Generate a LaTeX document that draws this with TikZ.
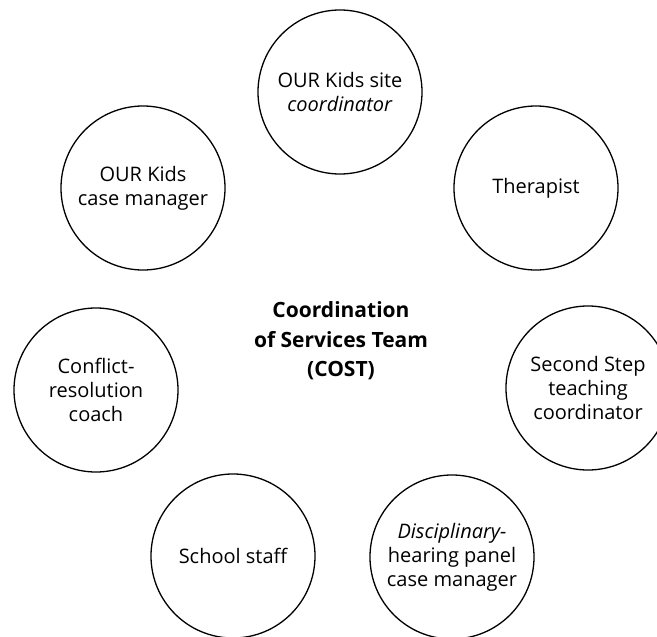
\documentclass[tikz,border=0pt]{standalone}
\usepackage{fontspec}
\setmainfont{Open Sans}
\begin{document}
\begin{tikzpicture}[x=1pt,y=-1pt,
  role/.style={circle, draw=black, line width=1.3pt, minimum size=164pt, inner sep=0pt,
    align=center, font=\fontsize{20}{24}\selectfont},
  hub/.style={align=center, font=\bfseries\fontsize{21}{29.5}\selectfont}]
\useasboundingbox (0,0) rectangle (657,637);
\clip (0,0) rectangle (657,637);
\fill[white] (0,0) rectangle (657,637);
\node[role] (site) at (340,92) {OUR Kids site\\\textit{coordinator}};
\node[role] (ther) at (536,188) {Therapist};
\node[role] (casem) at (143,188) {OUR Kids\\case manager};
\node[role] (confl) at (96,390) {Conflict-\\resolution\\coach};
\node[role] (second) at (588,388) {Second Step\\teaching\\coordinator};
\node[role] (school) at (233,556) {School staff};
\node[role] (disc) at (452,557) {\textit{Disciplinary-}\\hearing panel\\case manager};
\node[hub] (cost) at (341,341) {Coordination\\of Services Team\\(COST)};
\end{tikzpicture}
\end{document}
